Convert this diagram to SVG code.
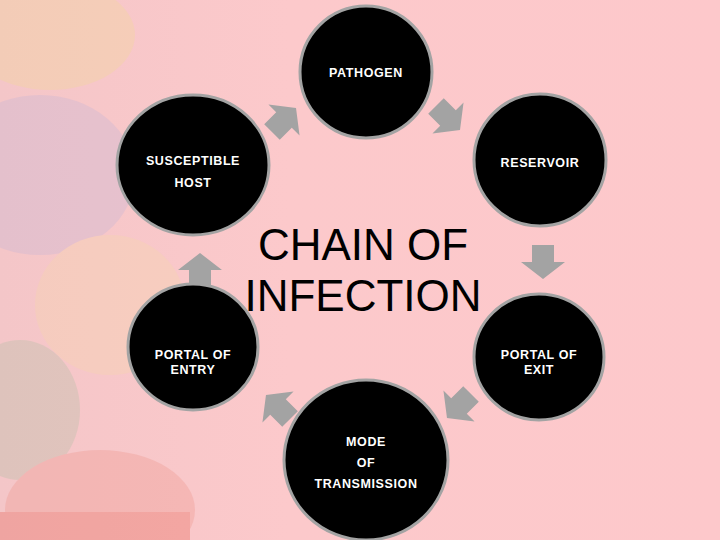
<svg xmlns="http://www.w3.org/2000/svg" width="720" height="540" viewBox="0 0 720 540">
<defs>
<style>
.n{fill:#000;stroke:#a3a3a3;stroke-width:3}
.t{fill:#fff;font-family:"Liberation Sans",Arial,sans-serif;font-size:12.5px;font-weight:bold;letter-spacing:0.6px;text-anchor:middle}
.a{fill:#a3a3a3}
</style>
<polygon id="arr" points="-22,0 0,-17 22,0 11,0 11,17 -11,17 -11,0"/>
<linearGradient id="bg" x1="0" y1="0" x2="1" y2="0"><stop offset="0" stop-color="#f4c6c8"/><stop offset="0.4" stop-color="#fcc9cb"/><stop offset="1" stop-color="#fdc8cb"/></linearGradient>
</defs>
<rect width="720" height="540" fill="url(#bg)"/>
<g id="bgdeco" opacity="0.35">
<ellipse cx="50" cy="35" rx="85" ry="55" fill="#f3d99a"/>
<ellipse cx="40" cy="175" rx="95" ry="80" fill="#c9b6d6"/>
<ellipse cx="110" cy="305" rx="75" ry="70" fill="#f6d7ad"/>
<ellipse cx="20" cy="410" rx="60" ry="70" fill="#b8c0a8"/>
<ellipse cx="100" cy="510" rx="95" ry="60" fill="#ef9990"/>
<rect x="0" y="512" width="190" height="28" fill="#e8685a"/>
</g>
<g id="connectors">
<use href="#arr" class="a" transform="translate(284,120) rotate(45)"/>
<use href="#arr" class="a" transform="translate(448,118) rotate(135)"/>
<use href="#arr" class="a" transform="translate(543,262) rotate(180)"/>
<use href="#arr" class="a" transform="translate(459,406) rotate(225)"/>
<use href="#arr" class="a" transform="translate(278,407) rotate(-45)"/>
<use href="#arr" class="a" transform="translate(200,270)"/>
</g>
<g id="pathogen"><ellipse class="n" cx="366" cy="72" rx="66" ry="66"/><text class="t" x="366" y="77">PATHOGEN</text></g>
<g id="reservoir"><ellipse class="n" cx="540" cy="160" rx="66" ry="66"/><text class="t" x="540" y="167">RESERVOIR</text></g>
<g id="host"><ellipse class="n" cx="193" cy="165" rx="76" ry="70"/><text class="t" x="193" y="165">SUSCEPTIBLE</text><text class="t" x="193" y="187">HOST</text></g>
<g id="entry"><ellipse class="n" cx="193" cy="347" rx="65" ry="63"/><text class="t" x="193" y="359">PORTAL OF</text><text class="t" x="193" y="374">ENTRY</text></g>
<g id="exit"><ellipse class="n" cx="539" cy="357" rx="65" ry="63"/><text class="t" x="539" y="359">PORTAL OF</text><text class="t" x="539" y="374">EXIT</text></g>
<g id="mode"><ellipse class="n" cx="366" cy="460" rx="82" ry="80"/><text class="t" x="366" y="446">MODE</text><text class="t" x="366" y="467">OF</text><text class="t" x="366" y="488">TRANSMISSION</text></g>
<g id="title" font-family="'Liberation Sans',Arial,sans-serif" font-size="44" text-anchor="middle" fill="#000">
<text x="363" y="260">CHAIN OF</text><text x="363" y="311">INFECTION</text></g>
</svg>
